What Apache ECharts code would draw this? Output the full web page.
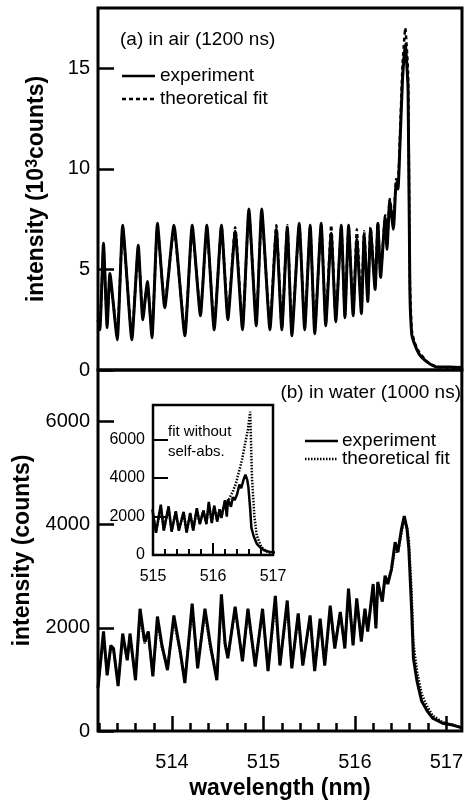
<!DOCTYPE html>
<html>
<head>
<meta charset="utf-8">
<script src="https://cdn.jsdelivr.net/npm/echarts@6/dist/echarts.min.js"></script>
<style>
    html, body { margin: 0; padding: 0; background: #fff; }
    #chart { width: 466px; height: 801px; }
</style>
</head>
<body>
<div id="chart"></div>
<script>
// (a) in air, intensity in 10^3 counts
const airWl = [513.19, 513.21, 513.25, 513.29, 513.32, 513.40, 513.46, 513.56, 513.63, 513.68,
    513.73, 513.78, 513.84, 513.92, 514.02, 514.14, 514.22, 514.31, 514.38, 514.46,
    514.54, 514.61, 514.69, 514.77, 514.84, 514.92, 514.98, 515.07, 515.14, 515.20,
    515.26, 515.31, 515.39, 515.45, 515.51, 515.56, 515.63, 515.68, 515.74, 515.79,
    515.85, 515.89, 515.93, 515.98, 516.02, 516.07, 516.10, 516.14, 516.17, 516.22,
    516.25, 516.28, 516.33, 516.35, 516.38, 516.42, 516.45, 516.47, 516.49, 516.52,
    516.55, 516.58, 516.60, 516.62, 516.65, 516.70, 516.76, 516.82, 516.90, 517.04, 517.17];
const airExp = [2.5, 2.0, 6.3, 2.1, 4.8, 1.5, 7.2, 1.5, 6.2, 2.5,
    4.4, 1.6, 7.3, 3.1, 7.2, 1.7, 7.2, 2.7, 7.2, 2.0,
    7.2, 2.5, 6.9, 2.0, 8.0, 2.2, 8.0, 2.0, 7.0, 2.0,
    7.1, 1.7, 7.3, 2.0, 7.2, 1.8, 7.3, 2.2, 6.8, 2.4,
    7.2, 2.6, 7.2, 2.7, 6.5, 2.8, 6.7, 3.4, 7.0, 4.0,
    7.3, 4.6, 7.6, 6.0, 8.4, 7.0, 9.3, 9.0, 11.0, 14.5,
    16.2, 14.0, 4.0, 1.8, 1.3, 0.8, 0.5, 0.3, 0.15, 0.15, 0.12];
const airFit = [2.7, 2.2, 6.0, 2.4, 4.5, 1.8, 7.0, 1.7, 6.0, 2.8,
    4.2, 1.9, 7.1, 3.3, 7.0, 1.9, 7.0, 2.9, 7.0, 2.2,
    7.1, 2.7, 7.1, 2.2, 7.8, 2.4, 7.8, 2.2, 7.2, 2.1,
    7.2, 1.9, 7.2, 2.2, 7.1, 2.0, 7.2, 2.4, 7.2, 2.5,
    7.1, 2.7, 7.1, 2.8, 7.0, 3.0, 6.9, 3.6, 7.1, 4.2,
    7.3, 4.8, 7.7, 6.2, 8.5, 7.3, 9.5, 9.3, 11.4, 15.2,
    17.0, 14.8, 4.5, 2.0, 1.4, 0.9, 0.55, 0.3, 0.15, 0.12, 0.1];

// (b) in water, intensity in counts
const waterWl = [513.19, 513.25, 513.29, 513.33, 513.36, 513.41, 513.46, 513.51, 513.54, 513.60,
    513.65, 513.70, 513.74, 513.79, 513.84, 513.89, 513.95, 514.02, 514.09, 514.14,
    514.22, 514.28, 514.36, 514.42, 514.49, 514.54, 514.58, 514.61, 514.69, 514.77,
    514.83, 514.91, 514.99, 515.05, 515.13, 515.18, 515.26, 515.31, 515.38, 515.43,
    515.51, 515.56, 515.62, 515.67, 515.73, 515.78, 515.84, 515.89, 515.93, 515.98,
    516.02, 516.07, 516.11, 516.14, 516.20, 516.23, 516.25, 516.30, 516.33, 516.36,
    516.40, 516.44, 516.47, 516.51, 516.54, 516.57, 516.59, 516.62, 516.64, 516.68,
    516.73, 516.79, 516.85, 516.96, 517.07, 517.17];
const waterExp = [830, 1930, 1080, 1660, 1600, 870, 1890, 1370, 1890, 985,
    2370, 1735, 1930, 1060, 2220, 1660, 1180, 2240, 1540, 930,
    2470, 1215, 2370, 1660, 985, 2650, 1700, 1410, 2410, 1350,
    2370, 1250, 2370, 1160, 2620, 1270, 2530, 1215, 2280, 1270,
    2240, 1160, 2180, 1270, 2430, 1600, 2310, 1600, 2760, 1660,
    2570, 1735, 2370, 1930, 2850, 1990, 2890, 2510, 3010, 2850,
    3140, 3660, 3470, 3920, 4170, 3920, 3530, 2370, 1410, 960,
    580, 390, 250, 150, 115, 60];
const waterFit = [900, 1800, 1150, 1600, 1550, 950, 1800, 1400, 1800, 1050,
    2250, 1700, 1850, 1100, 2150, 1600, 1250, 2150, 1500, 1000,
    2350, 1300, 2300, 1600, 1050, 2500, 1650, 1450, 2350, 1400,
    2300, 1300, 2300, 1200, 2500, 1300, 2450, 1250, 2250, 1300,
    2200, 1200, 2150, 1300, 2350, 1650, 2300, 1650, 2650, 1700,
    2500, 1800, 2350, 1950, 2750, 2050, 2800, 2550, 2950, 2900,
    3100, 3550, 3450, 3850, 4100, 3950, 3700, 2700, 1700, 1150,
    720, 480, 300, 170, 120, 70];

// inset: fit without self-absorption
const insetWl = [515.00, 515.05, 515.13, 515.18, 515.26, 515.31, 515.38, 515.43, 515.51, 515.56,
    515.62, 515.67, 515.73, 515.78, 515.84, 515.89, 515.93, 515.98, 516.02, 516.07,
    516.11, 516.14, 516.20, 516.23, 516.28, 516.33, 516.38, 516.43, 516.48, 516.53,
    516.58, 516.62, 516.65, 516.69, 516.73, 516.81, 516.92, 517.00];
const insetFit = [2100, 1200, 2500, 1300, 2450, 1250, 2250, 1300, 2200, 1200,
    2150, 1300, 2350, 1650, 2300, 1650, 2650, 1700, 2500, 1800,
    2400, 2000, 2800, 2600, 3000, 3300, 3700, 4300, 4900, 5700,
    6500, 7450, 4000, 2000, 1000, 400, 120, 50];

// ticks
const wlTicks = [514, 515, 516, 517];
const wlMinorTicks = [513.2, 513.4, 513.6, 513.8, 514.2, 514.4, 514.6, 514.8, 515.2, 515.4, 515.6, 515.8,
    516.2, 516.4, 516.6, 516.8, 517.0];
const airTicks = [0, 5, 10, 15];
const waterTicks = [0, 2000, 4000, 6000];
const insetWlTicks = [515, 516, 517];
const insetWlMajorTick = [516];
const insetWlMinorTicks = [515.2, 515.4, 515.6, 515.8, 516.2, 516.4, 516.6, 516.8];
const insetTickLabels = [0, 2000, 4000, 6000];
const insetTicks = [2000, 4000, 6000];

const FONT = "'Liberation Sans', Arial, Helvetica, sans-serif";
const zip = (xs, ys) => xs.map((x, i) => [x, ys[i]]);

let myChart = echarts.init(document.getElementById('chart'));

// axis that only carries labels (and maybe a name)
function labelAxis(grid, min, max, pos, values, size, margin, extra) {
    return Object.assign({
        gridIndex: grid, type: 'value', min: min, max: max, position: pos,
        axisLine: { show: false }, axisTick: { show: false }, splitLine: { show: false },
        axisLabel: {
            customValues: values, fontSize: size, color: '#000', fontFamily: FONT, margin: margin,
            formatter: v => String(v)
        }
    }, extra || {});
}
// axis that only carries inward ticks
function tickAxis(grid, min, max, pos, values, len, width) {
    return {
        gridIndex: grid, type: 'value', min: min, max: max, position: pos,
        axisLine: { show: false }, axisLabel: { show: false }, splitLine: { show: false },
        axisTick: { show: true, inside: true, length: len, customValues: values, lineStyle: { color: '#000', width: width } }
    };
}

function line(name, xi, yi, data, dash, width, smooth) {
    return {
        name: name, type: 'line', xAxisIndex: xi, yAxisIndex: yi,
        data: data, symbol: 'none', z: 3, smooth: smooth || false,
        lineStyle: { color: '#000', width: width, type: dash || 'solid' }
    };
}

const titleStyle = { fontSize: 23, fontWeight: 'bold', color: '#000', fontFamily: FONT };

myChart.setOption({
    animation: false,
    backgroundColor: '#fff',
    textStyle: { fontFamily: FONT, color: '#000' },
    grid: [
        { left: 98, top: 8, width: 364, height: 362, show: true, borderColor: '#000', borderWidth: 3 },
        { left: 98, top: 370, width: 364, height: 363, show: true, borderColor: '#000', borderWidth: 3 },
        { left: 153, top: 405, width: 120, height: 150, show: true, borderColor: '#000', borderWidth: 2.5, backgroundColor: '#fff' }
    ],
    xAxis: [
        {
            gridIndex: 0, type: 'value', min: 513.19, max: 517.17, position: 'bottom',
            axisLine: { show: false }, axisTick: { show: false },
            axisLabel: { show: false }, splitLine: { show: false }
        },
        labelAxis(1, 513.19, 517.17, 'bottom', wlTicks, 20, 21, {
            name: 'wavelength (nm)', nameLocation: 'middle', nameGap: 46, nameTextStyle: titleStyle
        }),
        tickAxis(1, 513.19, 517.17, 'bottom', wlTicks, 15, 2.5),
        tickAxis(1, 513.19, 517.17, 'bottom', wlMinorTicks, 8, 2.5),
        labelAxis(2, 515, 517, 'bottom', insetWlTicks, 16, 14),
        tickAxis(2, 515, 517, 'bottom', insetWlMajorTick, 12, 2),
        tickAxis(2, 515, 517, 'bottom', insetWlMinorTicks, 6, 2)
    ],
    yAxis: [
        labelAxis(0, 0, 18, 'left', airTicks, 20, 8, {
            name: '{t|intensity (10}{s|3}{t|counts)}', nameLocation: 'middle', nameGap: 50, nameRotate: 90,
            nameTextStyle: {
                rich: {
                    t: titleStyle,
                    s: { fontSize: 16, fontWeight: 'bold', fontFamily: FONT, color: '#000', verticalAlign: 'top' }
                }
            }
        }),
        tickAxis(0, 0, 18, 'left', airTicks, 16, 2.5),
        labelAxis(1, 0, 7000, 'left', waterTicks, 20, 8, {
            name: 'intensity (counts)', nameLocation: 'middle', nameGap: 50, nameRotate: 90, nameTextStyle: titleStyle
        }),
        tickAxis(1, 0, 7000, 'left', waterTicks, 16, 2.5),
        labelAxis(2, 0, 7800, 'left', insetTickLabels, 16, 8),
        tickAxis(2, 0, 7800, 'left', insetTicks, 15, 2)
    ],
    graphic: [
        { type: 'text', x: 120, y: 40, style: { text: '(a) in air (1200 ns)', font: '19px ' + FONT, fill: '#000', verticalAlign: 'middle' } },
        { type: 'line', shape: { x1: 122, y1: 76, x2: 155, y2: 76 }, style: { stroke: '#000', lineWidth: 2.5 } },
        { type: 'text', x: 160, y: 76, style: { text: 'experiment', font: '19px ' + FONT, fill: '#000', verticalAlign: 'middle' } },
        { type: 'line', shape: { x1: 122, y1: 99, x2: 155, y2: 99 }, style: { stroke: '#000', lineWidth: 2.5, lineDash: [4, 3] } },
        { type: 'text', x: 160, y: 99, style: { text: 'theoretical fit', font: '19px ' + FONT, fill: '#000', verticalAlign: 'middle' } },
        { type: 'text', x: 461, y: 393, style: { text: '(b) in water (1000 ns)', font: '19px ' + FONT, fill: '#000', align: 'right', verticalAlign: 'middle' } },
        { type: 'line', shape: { x1: 305, y1: 441, x2: 338, y2: 441 }, style: { stroke: '#000', lineWidth: 2.5 } },
        { type: 'text', x: 342, y: 441, style: { text: 'experiment', font: '19px ' + FONT, fill: '#000', verticalAlign: 'middle' } },
        { type: 'line', shape: { x1: 305, y1: 459, x2: 338, y2: 459 }, style: { stroke: '#000', lineWidth: 2.5, lineDash: [1.5, 1.5] } },
        { type: 'text', x: 342, y: 459, style: { text: 'theoretical fit', font: '19px ' + FONT, fill: '#000', verticalAlign: 'middle' } },
        { type: 'text', x: 168, y: 432, z: 10, style: { text: 'fit without', font: '15px ' + FONT, fill: '#000', verticalAlign: 'middle' } },
        { type: 'text', x: 168, y: 452, z: 10, style: { text: 'self-abs.', font: '15px ' + FONT, fill: '#000', verticalAlign: 'middle' } }
    ],
    series: [
        line('experiment', 0, 0, zip(airWl, airExp), 'solid', 3, 0.15),
        line('theoretical fit', 0, 0, zip(airWl, airFit), [4, 3], 2.5, 0.15),
        line('experiment', 1, 2, zip(waterWl, waterExp), 'solid', 3),
        line('theoretical fit', 1, 2, zip(waterWl, waterFit), [1.5, 1.5], 2.5),
        line('experiment', 4, 4, zip(waterWl, waterExp).filter(p => p[0] >= 514.95), 'solid', 2.5),
        line('fit without self-abs.', 4, 4, zip(insetWl, insetFit), [1.5, 1.5], 2.5)
    ]
});
</script>
</body>
</html>
